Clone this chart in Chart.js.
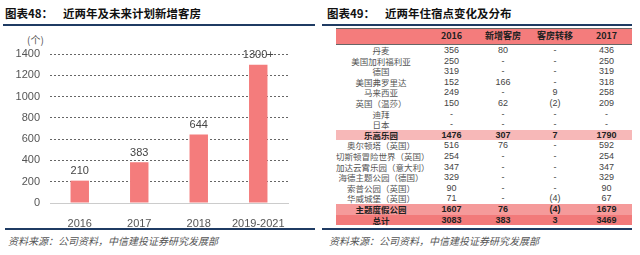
<!DOCTYPE html>
<html>
<head>
<meta charset="utf-8">
<script src="https://cdn.jsdelivr.net/npm/chart.js@4.4.1/dist/chart.umd.min.js"></script>
<style>
    body { margin: 0; background: #fff; width: 640px; height: 255px; overflow: hidden; position: relative;
           font-family: "Noto Sans CJK SC", "Liberation Sans", sans-serif; }
    .title { position: absolute; top: 5px; font-size: 11.5px; font-weight: bold; color: #111; white-space: nowrap; }
    .title span { margin-left: 10px; }
    .rule { position: absolute; height: 2px; background: #1f3b63; }
    .source { position: absolute; top: 233px; font-size: 10px; font-style: italic; color: #555; white-space: nowrap; }
    .unit { position: absolute; left: 27px; top: 32px; font-size: 10px; color: #555; }
    #chartBox { position: absolute; left: 0; top: 30px; width: 300px; height: 198px; }
    table { position: absolute; left: 336px; top: 28px; width: 296px; border-collapse: collapse; table-layout: fixed; }
    td, th { padding: 0; height: 10.6px; line-height: 10.6px; font-size: 9px; text-align: center; color: #444;
             font-family: "Liberation Sans", sans-serif; white-space: nowrap; }
    td.name { font-family: "Noto Sans CJK SC", sans-serif; font-weight: 400; font-size: 8.5px; color: #555; }
    th { height: 15px; background: #f47c7c; color: #222; font-weight: bold;
         border-top: 1px solid #666; border-bottom: 1px solid #666; font-family: "Noto Sans CJK SC", sans-serif; }
    tr.sub1 td { background: #f7b8b8; font-weight: bold; color: #222; }
    tr.sub2 td { background: #f59a9a; font-weight: bold; color: #222; }
    tr.total td { background: #f27a7a; font-weight: bold; color: #222; }
    tr.sub1 td.name, tr.sub2 td.name, tr.total td.name { font-weight: bold; color: #222; }
</style>
</head>
<body>
<div class="title" style="left:5px;">图表48：<span>近两年及未来计划新增客房</span></div>
<div class="rule" style="left:3px; width:312px; top:24px;"></div>
<div class="title" style="left:327px;">图表49：<span>近两年住宿点变化及分布</span></div>
<div class="rule" style="left:322px; width:310px; top:24px;"></div>

<div class="unit">(个)</div>
<div id="chartBox"><canvas id="roomsChart"></canvas></div>

<table id="hotelTable"></table>

<div class="rule" style="left:5px; width:310px; top:228px;"></div>
<div class="rule" style="left:322px; width:310px; top:228px;"></div>
<div class="source" style="left:8px;">资料来源：公司资料，中信建投证券研究发展部</div>
<div class="source" style="left:329px;">资料来源：公司资料，中信建投证券研究发展部</div>

<script>
// Bar chart data
const periods = ['2016', '2017', '2018', '2019-2021'];
const newRooms = [210, 383, 644, 1300];
const barLabels = ['210', '383', '644', '1300+'];
const yTicks = [0, 200, 400, 600, 800, 1000, 1200, 1400];

// Table data
const tableHeader = ['', '2016', '新增客房', '客房转移', '2017'];
const parkNames = ['丹麦', '美国加利福利亚', '德国', '美国弗罗里达', '马来西亚', '英国（温莎）', '迪拜', '日本',
    '乐高乐园', '奥尔顿塔（英国）', '切斯顿冒险世界（英国）', '加达云霄乐园（意大利）', '海德主题公园（德国）',
    '索普公园（英国）', '华威城堡（英国）', '主题度假公园', '总计'];
const rooms2016 = ['356', '250', '319', '152', '249', '150', '-', '-', '1476', '516', '254', '347', '329', '90', '71', '1607', '3083'];
const roomsAdded = ['80', '-', '-', '166', '-', '62', '-', '-', '307', '76', '-', '-', '-', '-', '-', '76', '383'];
const roomsMoved = ['-', '-', '-', '-', '9', '(2)', '-', '-', '7', '-', '-', '-', '-', '-', '(4)', '(4)', '3'];
const rooms2017 = ['436', '250', '319', '318', '258', '209', '-', '-', '1790', '592', '254', '347', '329', '90', '67', '1679', '3469'];
const rowStyles = {8: 'sub1', 15: 'sub2', 16: 'total'};

// Build table
const table = document.getElementById('hotelTable');
let html = '<colgroup><col style="width:90px"><col style="width:51px"><col style="width:52px"><col style="width:52px"><col style="width:51px"></colgroup>';
html += '<tr>' + tableHeader.map(h => `<th>${h}</th>`).join('') + '</tr>';
parkNames.forEach((name, i) => {
    const cls = rowStyles[i] ? ` class="${rowStyles[i]}"` : '';
    html += `<tr${cls}><td class="name">${name}</td><td>${rooms2016[i]}</td><td>${roomsAdded[i]}</td><td>${roomsMoved[i]}</td><td>${rooms2017[i]}</td></tr>`;
});
table.innerHTML = html;

// Value labels above bars
const valueLabels = {
    id: 'valueLabels',
    afterDatasetsDraw(chart) {
        const ctx = chart.ctx;
        const meta = chart.getDatasetMeta(0);
        ctx.save();
        ctx.font = '11px "Liberation Sans", sans-serif';
        ctx.fillStyle = '#444';
        ctx.textAlign = 'center';
        ctx.textBaseline = 'bottom';
        meta.data.forEach((bar, i) => {
            ctx.fillText(barLabels[i], bar.x, bar.y - 4);
        });
        ctx.restore();
    }
};

new Chart(document.getElementById('roomsChart'), {
    type: 'bar',
    data: {
        labels: periods,
        datasets: [{
            data: newRooms,
            backgroundColor: '#f47c7c',
            barPercentage: 0.31,
            categoryPercentage: 1
        }]
    },
    options: {
        responsive: true,
        maintainAspectRatio: false,
        animation: false,
        layout: { padding: { top: 24, right: 12, left: 0, bottom: 0 } },
        plugins: { legend: { display: false }, tooltip: { enabled: false } },
        scales: {
            x: {
                grid: { display: false },
                border: { color: '#ccc' },
                ticks: { color: '#555', font: { size: 11, family: 'Liberation Sans' }, padding: 6 },
                afterFit(scale) { scale.height = 25; }
            },
            y: {
                min: 0,
                max: 1400,
                afterBuildTicks(scale) { scale.ticks = yTicks.map(v => ({ value: v })); },
                grid: { color: '#666', drawTicks: false },
                border: { display: false, dash: [2, 2] },
                ticks: {
                    color: '#555',
                    font: { size: 11, family: 'Liberation Sans' },
                    padding: 10,
                    callback: value => String(value)
                },
                afterFit(scale) { scale.width = 50; }
            }
        }
    },
    plugins: [valueLabels]
});
</script>
</body>
</html>
